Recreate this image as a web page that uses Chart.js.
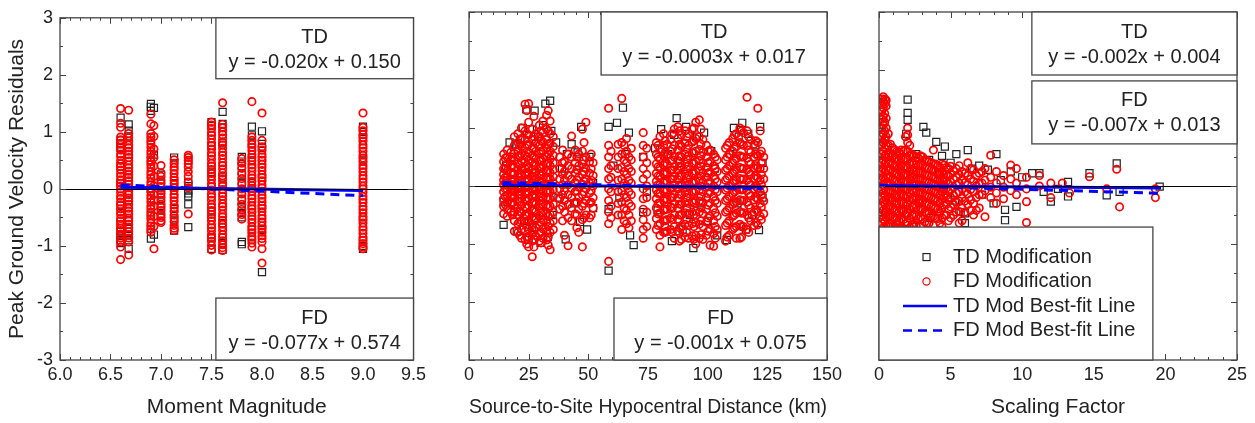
<!DOCTYPE html>
<html lang="en">
<head>
<meta charset="UTF-8">
<title>PGV Residuals</title>
<script src="https://cdn.jsdelivr.net/npm/chart.js@4.4.1/dist/chart.umd.min.js"></script>
<style>
  body { margin: 0; background: #fff; }
  .panel { position: absolute; top: 0; height: 423px; }
</style>
</head>
<body>
<div class="panel" style="left:0;width:430px"><canvas id="magChart"></canvas></div>
<div class="panel" style="left:430px;width:420px"><canvas id="distChart"></canvas></div>
<div class="panel" style="left:850px;width:405px"><canvas id="sfChart"></canvas></div>
<script>
// ---- Panel 1: moment magnitude (one column of residuals per event) ----
const magCols = [6.6, 6.68, 6.9, 6.93, 7.0, 7.13, 7.27, 7.5, 7.61, 7.8, 7.9, 8.0, 9.0];
const fdMag = [
  [1.41,1.15,1.08,0.91,0.86,0.8,0.73,0.68,0.61,0.57,0.5,0.44,0.39,0.33,0.27,0.22,0.16,0.1,0.05,0.0,-0.06,-0.12,-0.17,-0.23,-0.28,-0.35,-0.4,-0.45,-0.52,-0.56,-0.62,-0.69,-0.73,-0.79,-0.86,-0.93,-1.02,-1.24],
  [1.38,0.97,0.9,0.84,0.77,0.72,0.66,0.6,0.55,0.49,0.42,0.37,0.31,0.25,0.2,0.14,0.08,0.02,-0.04,-0.1,-0.16,-0.21,-0.27,-0.34,-0.39,-0.44,-0.51,-0.56,-0.62,-0.68,-0.75,-0.8,-0.86,-0.93,-1.16],
  [1.31,1.14,0.97,0.91,0.84,0.79,0.73,0.66,0.61,0.55,0.48,0.43,0.37,0.3,0.25,0.19,0.12,0.07,0.01,-0.05,-0.12,-0.17,-0.23,-0.3,-0.35,-0.41,-0.47,-0.53,-0.6,-0.65,-0.71,-0.76],
  [1.11,0.92,0.7,0.55,0.4,0.22,0.05,-0.1,-0.3,-0.48,-0.66,-1.05],
  [0.41,0.28,0.22,0.15,0.1,0.04,-0.03,-0.08,-0.14,-0.2,-0.27,-0.32,-0.38,-0.45,-0.5,-0.56,-0.59],
  [0.51,0.45,0.38,0.33,0.27,0.2,0.15,0.09,0.02,-0.03,-0.1,-0.15,-0.21,-0.28,-0.33,-0.39,-0.46,-0.51,-0.57,-0.64,-0.69,-0.73],
  [0.59,0.55,0.5,0.44,0.38,0.3,0.22,0.12,0.02,-0.44],
  [1.17,1.12,1.06,0.99,0.94,0.88,0.81,0.76,0.7,0.63,0.58,0.52,0.45,0.4,0.34,0.27,0.22,0.16,0.09,0.04,-0.02,-0.09,-0.14,-0.2,-0.27,-0.32,-0.38,-0.45,-0.5,-0.56,-0.63,-0.68,-0.74,-0.81,-0.86,-0.92,-0.99,-1.07],
  [1.51,1.13,1.07,1.0,0.95,0.89,0.82,0.77,0.71,0.64,0.59,0.53,0.46,0.41,0.35,0.28,0.23,0.17,0.1,0.05,-0.01,-0.08,-0.13,-0.19,-0.26,-0.31,-0.37,-0.44,-0.49,-0.55,-0.62,-0.67,-0.73,-0.8,-0.85,-0.91,-0.98,-1.03,-1.08],
  [0.53,0.45,0.36,0.27,0.18,0.09,0.0,-0.09,-0.18,-0.27,-0.36,-0.45,-0.53],
  [1.53,0.91,0.85,0.78,0.73,0.67,0.6,0.55,0.49,0.42,0.37,0.31,0.24,0.19,0.13,0.06,0.01,-0.05,-0.12,-0.17,-0.23,-0.3,-0.35,-0.41,-0.48,-0.53,-0.59,-0.66,-0.71,-0.77,-0.84,-0.89,-0.95,-1.02],
  [1.33,0.85,0.74,0.68,0.61,0.56,0.5,0.43,0.38,0.32,0.25,0.2,0.14,0.07,0.02,-0.04,-0.11,-0.16,-0.22,-0.29,-0.34,-0.4,-0.47,-0.52,-0.58,-0.65,-0.7,-0.76,-0.82,-0.87,-0.93,-1.05,-1.3],
  [1.33,1.08,1.02,0.95,0.9,0.84,0.77,0.72,0.66,0.59,0.54,0.48,0.41,0.36,0.3,0.23,0.18,0.12,0.05,0.0,-0.06,-0.13,-0.18,-0.24,-0.31,-0.36,-0.42,-0.49,-0.54,-0.6,-0.67,-0.72,-0.78,-0.85,-0.9,-0.96,-1.02,-1.05]
];
const tdMag = [
  [1.25,0.85,0.78,0.72,0.4,0.1,-0.3,-0.62,-0.75,-0.82,-0.9,-0.95],
  [1.13,1.02,0.92,0.6,0.2,-0.2,-0.55,-0.7,-0.82,-0.9,-1.05],
  [1.49,1.44,1.37,0.9,0.5,0.0,-0.45,-0.7,-0.87],
  [1.42,0.6,-0.2,-0.8],
  [0.25,0.1,-0.1,-0.3,-0.47],
  [0.55,0.45,0.1,-0.35,-0.55,-0.73],
  [0.5,0.12,0.05,-0.03,-0.08,-0.13,-0.27,-0.67],
  [1.17,1.1,0.75,0.3,-0.4,-0.85,-1.05],
  [1.35,1.14,1.08,0.8,0.2,-0.6,-0.95,-1.07],
  [0.56,0.48,0.4,0.25,0.1,-0.05,-0.2,-0.32,-0.42,-0.5,-0.93,-0.97],
  [1.09,0.94,0.8,0.5,0.1,-0.3,-0.7,-0.85],
  [1.01,0.79,0.72,0.5,0.2,-0.3,-0.6,-0.72,-1.46],
  [1.09,1.0,0.9,0.5,-0.5,-0.9,-1.0,-1.05]
];
const tdFitMag = [[6.6, 0.03], [9.0, -0.03]];
const fdFitMag = [[6.6, 0.07], [9.0, -0.12]];

// ---- Panel 2: hypocentral distance ----
const distCols = [14.5,16,17.5,19,20.5,22,23.5,25,26.5,28,29.5,31,32.5,34,35.3,
  38,40,41.5,43,44.5,46,47.5,49,50.5,52,58.5,62.5,64,66,68,73,74.5,
  78.5,80,81.5,83,84.5,86,87.5,89,90.5,92,93.5,95,96.5,98,99.5,101,102.5,104,
  107.5,109,110.5,112,113.5,115,116.5,118,119.5,121,122.5,123.5];
const fdDist = [
  [0.55,0.42,0.3,0.2,0.1,0.02,-0.1,-0.22,-0.35,-0.48],
  [0.62,0.5,0.38,0.26,0.15,0.05,-0.05,-0.16,-0.28,-0.4,-0.52],
  [0.58,0.45,0.33,0.22,0.12,0.03,-0.07,-0.18,-0.3,-0.45],
  [0.85,0.7,0.56,0.44,0.32,0.21,0.1,0.0,-0.1,-0.2,-0.32,-0.45,-0.6,-0.78],
  [0.9,0.75,0.62,0.5,0.38,0.27,0.16,0.06,-0.05,-0.15,-0.26,-0.38,-0.5,-0.65,-0.8],
  [1.0,0.82,0.68,0.55,0.43,0.31,0.2,0.1,0.0,-0.1,-0.21,-0.33,-0.46,-0.6,-0.75,-0.9],
  [1.41,0.95,0.8,0.66,0.53,0.41,0.3,0.19,0.08,-0.03,-0.14,-0.25,-0.37,-0.5,-0.63,-0.78,-0.92],
  [1.42,1.1,0.88,0.72,0.58,0.45,0.33,0.22,0.11,0.01,-0.1,-0.21,-0.33,-0.46,-0.6,-0.74,-0.88,-1.05],
  [0.98,0.8,0.65,0.52,0.4,0.28,0.17,0.06,-0.05,-0.16,-0.28,-0.4,-0.53,-0.67,-0.82,-0.95,-1.22],
  [0.9,0.74,0.6,0.47,0.35,0.24,0.13,0.03,-0.08,-0.19,-0.31,-0.44,-0.58,-0.72,-0.86],
  [1.05,0.85,0.7,0.56,0.43,0.31,0.2,0.09,-0.02,-0.13,-0.25,-0.38,-0.52,-0.67,-0.82,-0.95],
  [1.12,0.92,0.76,0.61,0.48,0.36,0.24,0.13,0.02,-0.09,-0.2,-0.32,-0.45,-0.59,-0.74,-0.9],
  [1.22,0.98,0.8,0.65,0.51,0.38,0.26,0.14,0.03,-0.08,-0.2,-0.33,-0.47,-0.62,-0.78,-0.93],
  [1.12,0.9,0.74,0.6,0.47,0.35,0.23,0.12,0.01,-0.1,-0.22,-0.35,-0.49,-0.64,-0.8,-1.1],
  [0.85,0.68,0.53,0.4,0.28,0.16,0.05,-0.06,-0.18,-0.31,-0.45,-0.6,-0.75],
  [0.5,0.3,0.12,-0.05,-0.22,-0.4],
  [0.42,0.25,0.1,-0.08,-0.25,-0.45,-0.85],
  [0.55,0.35,0.18,0.02,-0.15,-0.32,-0.55,-1.03],
  [0.86,0.5,0.3,0.12,-0.04,-0.2,-0.38,-0.6],
  [0.62,0.4,0.22,0.06,-0.1,-0.28,-0.48],
  [0.55,0.35,0.15,-0.02,-0.2,-0.4,-0.8],
  [0.98,0.6,0.38,0.2,0.03,-0.15,-0.35,-0.58,-1.05],
  [1.1,0.5,0.3,0.12,-0.05,-0.25,-0.5],
  [0.42,0.22,0.05,-0.12,-0.3,-0.55],
  [0.4,0.18,0.0,-0.2,-0.38],
  [1.34,0.7,0.5,0.3,0.12,-0.05,-0.25,-0.45,-0.65,-1.3],
  [0.72,0.5,0.3,0.1,-0.1,-0.3,-0.5],
  [1.51,0.75,0.55,0.32,0.12,-0.08,-0.28,-0.5,-0.75],
  [0.82,0.6,0.4,0.2,0.0,-0.2,-0.42,-0.65],
  [0.65,0.45,0.25,0.05,-0.15,-0.35,-0.6],
  [0.92,0.7,0.5,0.3,0.12,-0.05,-0.22,-0.4,-0.58,-0.75,-0.9],
  [0.65,0.4,0.2,0.0,-0.2,-0.45,-0.7],
  [0.75,0.55,0.38,0.22,0.08,-0.07,-0.22,-0.38,-0.56,-0.75],
  [0.85,0.64,0.47,0.31,0.16,0.02,-0.13,-0.29,-0.46,-0.65,-0.85,-1.05],
  [0.9,0.7,0.52,0.36,0.21,0.06,-0.09,-0.25,-0.42,-0.6,-0.8],
  [0.72,0.54,0.38,0.23,0.08,-0.07,-0.23,-0.4,-0.58,-0.78],
  [0.8,0.6,0.43,0.27,0.12,-0.03,-0.19,-0.36,-0.55,-0.75],
  [0.98,0.7,0.5,0.33,0.17,0.02,-0.14,-0.31,-0.5,-0.7,-0.9],
  [1.02,0.82,0.62,0.44,0.27,0.11,-0.05,-0.21,-0.38,-0.57,-0.78],
  [0.88,0.68,0.5,0.33,0.17,0.01,-0.15,-0.32,-0.5,-0.7,-0.92],
  [0.95,0.74,0.55,0.38,0.21,0.05,-0.11,-0.28,-0.46,-0.66,-0.88],
  [0.9,0.7,0.52,0.35,0.19,0.03,-0.13,-0.3,-0.48,-0.68,-0.9],
  [0.98,0.76,0.57,0.39,0.22,0.06,-0.1,-0.27,-0.45,-0.65,-0.86],
  [1.1,0.82,0.6,0.42,0.25,0.08,-0.08,-0.25,-0.43,-0.63,-0.85,-1.0],
  [1.14,0.85,0.63,0.44,0.26,0.09,-0.08,-0.26,-0.45,-0.66,-0.9],
  [0.8,0.58,0.4,0.23,0.07,-0.1,-0.28,-0.48,-0.7,-0.92],
  [0.7,0.5,0.32,0.15,-0.02,-0.2,-0.4,-0.62,-0.85],
  [0.62,0.42,0.24,0.07,-0.11,-0.3,-0.52,-0.75,-1.02],
  [0.55,0.35,0.17,0.0,-0.18,-0.38,-0.6,-0.82,-1.04],
  [0.45,0.25,0.07,-0.1,-0.3,-0.52,-0.75],
  [0.65,0.45,0.27,0.1,-0.07,-0.25,-0.45,-0.68,-0.95],
  [0.75,0.55,0.35,0.17,0.0,-0.18,-0.38,-0.6,-0.85],
  [0.82,0.6,0.4,0.22,0.05,-0.13,-0.32,-0.52,-0.75],
  [0.9,0.68,0.47,0.28,0.1,-0.08,-0.27,-0.47,-0.7,-0.9],
  [1.0,0.75,0.52,0.32,0.13,-0.05,-0.24,-0.44,-0.66,-0.9],
  [0.92,0.7,0.5,0.3,0.12,-0.06,-0.25,-0.46,-0.7],
  [1.53,0.95,0.7,0.48,0.28,0.1,-0.08,-0.28,-0.5,-0.75],
  [0.8,0.58,0.38,0.2,0.02,-0.17,-0.38,-0.6],
  [0.72,0.5,0.31,0.13,-0.05,-0.24,-0.45,-0.68],
  [1.34,0.75,0.52,0.32,0.14,-0.04,-0.23,-0.44,-0.67],
  [0.6,0.4,0.2,0.02,-0.16,-0.36,-0.58],
  [0.5,0.3,0.12,-0.06,-0.26,-0.48]
];
// in-between stations of the denser clusters
const distColsB = [15.2,18.2,21.2,24.2,27.2,30.2,33.2,39.2,45.2,48.2,51.2,59.5,65,67,
  79.2,82.2,85.2,88.2,91.2,94.2,97.2,100.2,103.2,108.2,111.2,114.2,117.2,120.2,122];
const fdDistB = [
  [0.48,0.3,0.15,0.05,-0.05,-0.18,-0.32],
  [0.5,0.36,0.2,0.08,-0.04,-0.15,-0.28,-0.5],
  [0.7,0.52,0.36,0.22,0.1,-0.02,-0.14,-0.28,-0.44,-0.62,-0.85],
  [1.3,0.9,0.7,0.5,0.36,0.24,0.12,0.0,-0.12,-0.24,-0.38,-0.52,-0.7,-0.88,-1.0],
  [1.2,0.85,0.66,0.5,0.36,0.22,0.1,-0.02,-0.14,-0.27,-0.42,-0.58,-0.76,-0.92,-1.05],
  [0.95,0.78,0.6,0.45,0.32,0.18,0.06,-0.06,-0.18,-0.31,-0.46,-0.62,-0.8,-0.98],
  [1.3,0.95,0.72,0.55,0.4,0.27,0.15,0.03,-0.09,-0.22,-0.36,-0.52,-0.7,-0.88,-1.02],
  [0.62,0.4,0.2,0.02,-0.15,-0.35,-0.6],
  [0.5,0.28,0.1,-0.08,-0.28,-0.5,-0.72],
  [0.75,0.45,0.25,0.08,-0.1,-0.3,-0.55],
  [0.55,0.3,0.1,-0.08,-0.28,-0.5],
  [0.6,0.35,0.15,-0.1,-0.35,-0.55],
  [0.7,0.45,0.25,0.05,-0.15,-0.38,-0.6],
  [0.5,0.3,0.1,-0.1,-0.3,-0.5,-0.72],
  [0.7,0.5,0.33,0.17,0.02,-0.13,-0.3,-0.48,-0.68],
  [0.78,0.58,0.4,0.24,0.09,-0.06,-0.22,-0.4,-0.6,-0.8],
  [0.9,0.64,0.45,0.28,0.12,-0.04,-0.2,-0.38,-0.58,-0.8],
  [0.95,0.72,0.52,0.34,0.18,0.02,-0.14,-0.31,-0.5,-0.72,-0.95],
  [0.85,0.64,0.46,0.29,0.13,-0.03,-0.2,-0.38,-0.58,-0.8],
  [1.0,0.78,0.57,0.39,0.22,0.06,-0.11,-0.29,-0.49,-0.7,-0.92],
  [0.98,0.72,0.52,0.34,0.17,0.0,-0.18,-0.38,-0.6,-0.84],
  [0.6,0.4,0.22,0.05,-0.13,-0.33,-0.55,-0.78],
  [0.5,0.3,0.12,-0.06,-0.25,-0.46,-0.7,-0.9],
  [0.7,0.5,0.3,0.13,-0.04,-0.22,-0.42,-0.64,-0.88],
  [0.88,0.64,0.44,0.25,0.08,-0.1,-0.29,-0.5,-0.72],
  [0.95,0.72,0.5,0.3,0.11,-0.07,-0.26,-0.47,-0.7,-0.88],
  [0.85,0.62,0.42,0.24,0.06,-0.13,-0.33,-0.55,-0.8],
  [0.78,0.55,0.35,0.17,-0.01,-0.2,-0.41,-0.63],
  [0.95,0.55,0.3,0.1,-0.1,-0.3,-0.52]
];
const tdDist = [[14.5,-0.27],[14.5,-0.67],[15.5,0.35],[17,0.75],[17.5,-0.3],[19.5,0.72],[20,-0.78],[21.5,0.8],
  [22.5,1.0],[23,-0.6],[24,1.32],[25.5,0.98],[25,-0.93],[26.5,-0.72],[27.5,1.3],[28,-0.55],[29,0.85],[30,-0.98],
  [31,1.05],[32,1.42],[33,-0.88],[34,1.47],[34.5,0.95],[35,-0.5],[36.5,0.75],[37.5,-0.2],[39,0.3],[40.5,-0.92],
  [41,0.55],[43,0.72],[44,-0.3],[45.5,0.58],[46.5,-0.62],[47,1.02],[48,0.32],[49.5,-0.75],[50.5,0.5],[52,0.05],
  [52,-0.38],[58.5,1.02],[58.5,-0.4],[58.5,-1.46],[60.5,0.35],[62,1.09],[63,-0.2],[64.5,1.35],[65.5,0.55],[67,0.92],
  [67.5,-0.85],[69,-1.02],[73,0.5],[73,-0.45],[74.5,-0.1],[78,0.65],[79,-0.42],[80.5,0.98],[82,-0.7],[83.5,0.55],
  [85,-0.95],[86,0.88],[87,1.17],[88.5,0.4],[89.5,-0.75],[91,1.02],[92.5,-0.5],[94,-1.07],[95.5,0.85],[97,-0.3],
  [98.5,0.92],[100,-0.6],[101.5,0.6],[103,0.3],[104,-0.85],[108,-0.93],[109.5,0.55],[111,1.0],[112.5,-0.3],[113,0.85],
  [114.5,1.09],[116,-0.75],[117,0.9],[118.5,-0.5],[120,0.7],[121.5,-0.76],[122,1.02],[123,-0.2],[123,0.4]];
const tdFitDist = [[14, 0.013], [123, -0.02]];
const fdFitDist = [[14, 0.061], [123, -0.048]];

// ---- Panel 3: scaling factor ----
const sfCols = [0.3,0.5,0.8,1.1,1.4,1.7,2.0,2.3,2.6,2.9,3.2,3.5,3.8,4.1,4.4,4.7,5.0,5.4,5.8,6.2,6.6,7.0,7.4,7.8,8.2,8.7,9.2,9.6,10.3,11.2,12.0,12.8,13.3,14.7,15.9,16.6,16.8,19.3];
const fdSf = [
  [1.54,1.45,1.35,1.2,1.05,0.9,0.75,0.6,0.45,0.3,0.15,0.02,-0.12,-0.27,-0.42,-0.57,-0.72,-0.9],
  [1.48,1.38,1.17,1.0,0.85,0.7,0.55,0.42,0.28,0.15,0.03,-0.1,-0.24,-0.38,-0.53,-0.68,-0.85],
  [0.72,0.56,0.42,0.29,0.16,0.04,-0.08,-0.21,-0.35,-0.5,-0.66,-0.82],
  [0.62,0.48,0.35,0.22,0.1,-0.02,-0.14,-0.27,-0.41,-0.56,-0.72],
  [0.58,0.44,0.31,0.19,0.07,-0.05,-0.17,-0.3,-0.44,-0.6,-0.76],
  [0.6,0.46,0.33,0.2,0.08,-0.04,-0.16,-0.29,-0.43,-0.58,-0.74],
  [1.0,0.88,0.75,0.6,0.46,0.32,0.19,0.07,-0.05,-0.18,-0.32,-0.47,-0.63,-0.8],
  [0.55,0.41,0.28,0.16,0.04,-0.08,-0.21,-0.35,-0.5,-0.66],
  [0.5,0.37,0.25,0.13,0.02,-0.1,-0.23,-0.37,-0.52,-0.68],
  [0.52,0.38,0.25,0.13,0.01,-0.11,-0.24,-0.38,-0.54,-0.7],
  [0.45,0.32,0.2,0.08,-0.04,-0.16,-0.3,-0.45,-0.62],
  [0.42,0.3,0.18,0.06,-0.06,-0.18,-0.32,-0.48,-0.64],
  [0.62,0.38,0.26,0.14,0.03,-0.09,-0.22,-0.36,-0.52,-0.68],
  [0.35,0.23,0.11,0.0,-0.12,-0.25,-0.4,-0.56],
  [0.38,0.25,0.13,0.02,-0.1,-0.23,-0.38,-0.55,-0.7],
  [0.32,0.2,0.08,-0.04,-0.17,-0.32,-0.5],
  [0.34,0.2,0.07,-0.06,-0.2,-0.36,-0.55],
  [0.3,0.15,0.02,-0.12,-0.28,-0.45],
  [0.25,0.1,-0.05,-0.2,-0.38,-0.6],
  [0.4,0.18,0.02,-0.14,-0.32],
  [0.28,0.08,-0.1,-0.3,-0.5],
  [0.22,0.05,-0.15,-0.38],
  [0.3,0.1,-0.08,-0.53],
  [0.53,0.15,-0.02,-0.2],
  [0.25,0.05,-0.12,-0.3],
  [0.18,-0.02,-0.22],
  [0.36,0.12,-0.08],
  [0.3,0.05,-0.15],
  [0.15,-0.05,-0.27,-0.63],
  [0.18,0.0],
  [0.05,-0.2],
  [0.05],
  [-0.12],
  [0.16],
  [-0.05],
  [0.29],
  [-0.36],
  [-0.05,-0.2]
];
const sfColsB = [0.2,0.4,0.65,0.95,1.25,1.55,1.85,2.15,2.45,2.75,3.05,3.35,3.65,3.95,4.25,4.55,4.85,5.2,5.6,6.0,6.4,6.8,7.2];
const fdSfB = [
  [1.5,1.4,1.3,1.15,1.0,0.85,0.7,0.55,0.4,0.25,0.1,-0.05,-0.2,-0.35,-0.5,-0.65,-0.8],
  [1.5,1.42,1.25,1.1,0.95,0.8,0.66,0.52,0.38,0.24,0.1,-0.04,-0.18,-0.32,-0.47,-0.62,-0.78],
  [0.9,0.7,0.55,0.4,0.27,0.14,0.02,-0.1,-0.23,-0.37,-0.52,-0.68],
  [0.66,0.52,0.38,0.25,0.12,0.0,-0.12,-0.25,-0.39,-0.54,-0.7],
  [0.6,0.46,0.33,0.2,0.08,-0.04,-0.16,-0.29,-0.43,-0.58,-0.74],
  [0.62,0.48,0.35,0.22,0.1,-0.03,-0.15,-0.28,-0.42,-0.57,-0.72],
  [0.85,0.62,0.46,0.32,0.19,0.06,-0.07,-0.2,-0.34,-0.49,-0.65],
  [0.7,0.52,0.38,0.25,0.12,0.0,-0.12,-0.25,-0.4,-0.56,-0.72],
  [0.52,0.39,0.27,0.15,0.03,-0.09,-0.22,-0.36,-0.51,-0.67],
  [0.48,0.35,0.23,0.11,-0.01,-0.13,-0.26,-0.4,-0.56],
  [0.5,0.36,0.24,0.12,0.0,-0.12,-0.25,-0.4,-0.57],
  [0.44,0.31,0.19,0.07,-0.05,-0.17,-0.31,-0.47,-0.64],
  [0.4,0.28,0.16,0.04,-0.08,-0.2,-0.35,-0.52],
  [0.38,0.26,0.14,0.02,-0.1,-0.23,-0.38,-0.55],
  [0.33,0.21,0.09,-0.03,-0.16,-0.3,-0.46,-0.64],
  [0.36,0.22,0.1,-0.03,-0.17,-0.33,-0.5],
  [0.3,0.17,0.04,-0.09,-0.24,-0.4,-0.6],
  [0.26,0.12,-0.02,-0.16,-0.32,-0.5],
  [0.35,0.2,0.05,-0.1,-0.26,-0.44,-0.64],
  [0.22,0.06,-0.1,-0.26,-0.45],
  [0.3,0.12,-0.06,-0.24,-0.42],
  [0.18,0.0,-0.2,-0.42],
  [0.25,0.05,-0.15]
];
const tdSf = [[0.3,1.1],[0.4,0.8],[0.5,-0.45],[0.7,0.5],[0.9,-0.2],[1.0,0.62],[1.2,-0.65],[1.5,0.35],[1.7,-0.4],
  [2.0,1.49],[2.0,1.26],[2.0,1.14],[1.9,0.9],[2.2,0.2],[2.4,-0.7],[2.6,0.55],[2.8,-0.3],[3.1,1.02],[3.3,0.92],
  [3.5,0.45],[3.6,-0.55],[4.0,0.76],[4.2,0.2],[4.4,0.52],[4.6,0.68],[4.8,-0.2],[5.0,0.4],[5.3,-0.25],[5.4,0.55],
  [5.7,-0.45],[6.0,-0.47],[6.0,-0.64],[6.2,0.62],[6.5,0.3],[7.0,0.35],[7.2,-0.15],[7.6,0.28],[8.0,-0.3],[8.2,0.55],
  [8.5,0.1],[8.8,-0.41],[8.8,-0.59],[9.2,0.25],[9.6,-0.36],[10.0,0.15],[10.7,0.22],[11.2,0.22],[11.5,-0.1],
  [12.0,-0.27],[12.5,-0.05],[13.2,0.07],[13.2,-0.18],[14.7,0.22],[15.9,-0.16],[16.6,0.39],[16.8,-0.1],[19.6,-0.01]];
const tdFitSf = [[0, 0.004], [19.7, -0.035]];
const fdFitSf = [[0, 0.013], [19.5, -0.124]];

const FONT = '"Liberation Sans", Arial, sans-serif';
const RED = '#ff0000', BLUE = '#0000ff', INK = '#222';

function fromCols(xs, ys) {
  const pts = [];
  xs.forEach((x, i) => ys[i].forEach(y => pts.push({ x: x, y: y })));
  return pts;
}
function fromPairs(arr) {
  return arr.map(p => ({ x: p[0], y: p[1] }));
}

// frame with inward ticks, zero line, equation boxes and legend
const decor = {
  id: 'decor',
  afterDatasetsDraw(chart, args, opts) {
    const { ctx, chartArea: a } = chart;
    const xs = chart.scales.x, ys = chart.scales.y;
    ctx.save();
    ctx.lineWidth = 1;
    ctx.strokeStyle = '#000';
    const y0 = Math.round(ys.getPixelForValue(0)) + 0.5;
    ctx.beginPath(); ctx.moveTo(a.left, y0); ctx.lineTo(a.right, y0); ctx.stroke();

    ctx.strokeStyle = '#444';
    const n = Math.round((xs.max - xs.min) / opts.minorX);
    ctx.beginPath();
    for (let i = 0; i <= n; i++) {
      const v = xs.min + i * opts.minorX;
      const major = Math.abs(v / opts.majorX - Math.round(v / opts.majorX)) < 1e-6;
      const len = major ? 6 : 3;
      const px = Math.round(xs.getPixelForValue(v)) + 0.5;
      ctx.moveTo(px, a.bottom); ctx.lineTo(px, a.bottom - len);
      ctx.moveTo(px, a.top); ctx.lineTo(px, a.top + len);
    }
    for (let v = -3; v <= 3; v += 0.5) {
      const len = Number.isInteger(v) ? 6 : 3;
      const py = Math.round(ys.getPixelForValue(v)) + 0.5;
      ctx.moveTo(a.left, py); ctx.lineTo(a.left + len, py);
      ctx.moveTo(a.right, py); ctx.lineTo(a.right - len, py);
    }
    ctx.stroke();
    ctx.lineWidth = 1.3;
    ctx.strokeRect(a.left, a.top, a.width, a.height);

    const box = b => {
      const l = a.left + b.x0 * a.width, r = a.left + b.x1 * a.width;
      const t = a.top + b.y0 * a.height, btm = a.top + b.y1 * a.height;
      ctx.fillStyle = '#fff';
      ctx.fillRect(l, t, r - l, btm - t);
      ctx.lineWidth = 1.3;
      ctx.strokeStyle = '#444';
      ctx.strokeRect(l, t, r - l, btm - t);
      return { l, r, t, b: btm };
    };
    ctx.textBaseline = 'middle';
    (opts.boxes || []).forEach(b => {
      const r = box(b);
      ctx.fillStyle = INK;
      ctx.font = '20px ' + FONT;
      ctx.textAlign = 'center';
      const cx = (r.l + r.r) / 2;
      ctx.fillText(b.lines[0], cx, r.t + 20);
      ctx.fillText(b.lines[1], cx, r.t + 45);
    });
    if (opts.legend) {
      const r = box(opts.legend);
      ctx.font = '20px ' + FONT;
      ctx.textAlign = 'left';
      opts.legend.items.forEach((it, i) => {
        const y = r.t + 30 + i * 24.5;
        ctx.lineWidth = 1.2;
        if (it.kind === 'rect') {
          ctx.strokeStyle = INK; ctx.strokeRect(r.l + 44, y - 3.5, 7, 7);
        } else if (it.kind === 'circle') {
          ctx.strokeStyle = RED; ctx.beginPath(); ctx.arc(r.l + 47.5, y, 3.6, 0, Math.PI * 2); ctx.stroke();
        } else {
          ctx.strokeStyle = BLUE; ctx.lineWidth = 2.5;
          ctx.setLineDash(it.kind === 'dash' ? [9, 6] : []);
          ctx.beginPath(); ctx.moveTo(r.l + 24, y); ctx.lineTo(r.l + 68, y); ctx.stroke();
          ctx.setLineDash([]);
        }
        ctx.fillStyle = INK;
        ctx.fillText(it.text, r.l + 74, y);
      });
    }
    ctx.restore();
  }
};

function makeChart(id, cfg) {
  const datasets = [
    { type: 'line', data: fromPairs(cfg.tdFit), borderColor: BLUE, borderWidth: 3, pointRadius: 0, showLine: true },
    { type: 'line', data: fromPairs(cfg.fdFit), borderColor: BLUE, borderWidth: 3, borderDash: [9, 6], pointRadius: 0, showLine: true },
    { data: cfg.fd, pointStyle: 'circle', pointRadius: 3.7, borderColor: RED, backgroundColor: 'rgba(0,0,0,0)', borderWidth: 1.7 },
    { data: cfg.td, pointStyle: 'rect', pointRadius: 5, borderColor: INK, backgroundColor: 'rgba(0,0,0,0)', borderWidth: 1.2 }
  ];
  return new Chart(document.getElementById(id), {
    type: 'scatter',
    data: { datasets: datasets },
    plugins: [decor],
    options: {
      responsive: true,
      maintainAspectRatio: false,
      animation: false,
      events: [],
      layout: { padding: { top: 12, right: cfg.padRight, left: 0, bottom: 0 } },
      plugins: {
        legend: { display: false },
        tooltip: { enabled: false },
        decor: { minorX: cfg.minorX, majorX: cfg.step, boxes: cfg.boxes, legend: cfg.legend }
      },
      scales: {
        x: {
          type: 'linear', min: cfg.xMin, max: cfg.xMax,
          grid: { display: false, drawTicks: false }, border: { display: false },
          ticks: { stepSize: cfg.step, autoSkip: false, maxRotation: 0, padding: 4, color: INK,
                   font: { family: FONT, size: 18 }, callback: cfg.fmt },
          title: { display: true, text: cfg.xTitle, color: INK, font: { family: FONT, size: 21 }, padding: { top: 0, bottom: 3 } },
          afterFit: s => { s.height = 63; }
        },
        y: {
          min: -3, max: 3,
          grid: { display: false, drawTicks: false }, border: { display: false },
          ticks: { display: cfg.yLabels, stepSize: 1, padding: 7, color: INK, font: { family: FONT, size: 18 } },
          title: { display: cfg.yLabels, text: 'Peak Ground Velocity Residuals', color: INK,
                   font: { family: FONT, size: 21 }, padding: { top: 5, bottom: 0 } },
          afterFit: s => { s.width = cfg.yWidth; }
        }
      }
    }
  });
}

makeChart('magChart', {
  fd: fromCols(magCols, fdMag), td: fromCols(magCols, tdMag), tdFit: tdFitMag, fdFit: fdFitMag,
  xMin: 6, xMax: 9.5, step: 0.5, minorX: 0.1, fmt: v => v.toFixed(1),
  xTitle: 'Moment Magnitude', yLabels: true, yWidth: 60, padRight: 14,
  boxes: [
    { x0: 0.441, x1: 1, y0: 0, y1: 0.178, lines: ['TD', 'y = -0.020x + 0.150'] },
    { x0: 0.441, x1: 1, y0: 0.819, y1: 1, lines: ['FD', 'y = -0.077x + 0.574'] }
  ]
});

makeChart('distChart', {
  fd: fromCols(distCols, fdDist).concat(fromCols(distColsB, fdDistB)), td: fromPairs(tdDist),
  tdFit: tdFitDist, fdFit: fdFitDist,
  xMin: 0, xMax: 150, step: 25, minorX: 5, fmt: v => v,
  xTitle: 'Source-to-Site Hypocentral Distance (km)', yLabels: false, yWidth: 39, padRight: 23,
  boxes: [
    { x0: 0.369, x1: 1, y0: 0, y1: 0.181, lines: ['TD', 'y = -0.0003x + 0.017'] },
    { x0: 0.405, x1: 1, y0: 0.822, y1: 1, lines: ['FD', 'y = -0.001x + 0.075'] }
  ]
});

makeChart('sfChart', {
  fd: fromCols(sfCols, fdSf).concat(fromCols(sfColsB, fdSfB)), td: fromPairs(tdSf),
  tdFit: tdFitSf, fdFit: fdFitSf,
  xMin: 0, xMax: 25, step: 5, minorX: 1, fmt: v => v,
  xTitle: 'Scaling Factor', yLabels: false, yWidth: 29, padRight: 18,
  boxes: [
    { x0: 0.427, x1: 1, y0: 0, y1: 0.181, lines: ['TD', 'y = -0.002x + 0.004'] },
    { x0: 0.427, x1: 1, y0: 0.198, y1: 0.379, lines: ['FD', 'y = -0.007x + 0.013'] }
  ],
  legend: {
    x0: 0, x1: 0.765, y0: 0.618, y1: 1,
    items: [
      { kind: 'rect', text: 'TD Modification' },
      { kind: 'circle', text: 'FD Modification' },
      { kind: 'solid', text: 'TD Mod Best-fit Line' },
      { kind: 'dash', text: 'FD Mod Best-fit Line' }
    ]
  }
});
</script>
</body>
</html>
